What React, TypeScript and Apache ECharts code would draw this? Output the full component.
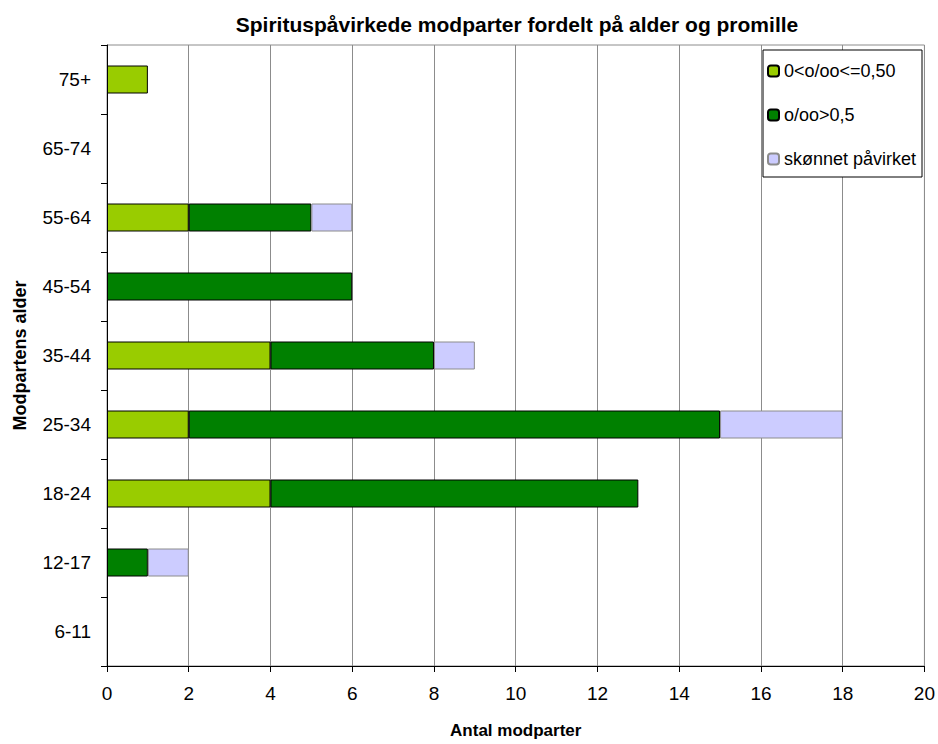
import React, { useEffect, useRef } from "react";
import * as echarts from "echarts";

const categories = ["6-11", "12-17", "18-24", "25-34", "35-44", "45-54", "55-64", "65-74", "75+"];
const lowPromille = [0, 0, 4, 2, 4, 0, 2, 0, 1];
const highPromille = [0, 1, 9, 13, 4, 6, 3, 0, 0];
const estimated = [0, 1, 0, 3, 1, 0, 1, 0, 0];
const seriesNames = ["0<o/oo<=0,50", "o/oo>0,5", "skønnet påvirket"];
const xTicks = [0, 2, 4, 6, 8, 10, 12, 14, 16, 18, 20];

const FONT = "Liberation Sans, Arial, sans-serif";

export default function App() {
  const ref = useRef<HTMLDivElement>(null);
  useEffect(() => {
    if (!ref.current) return;
    const chart = echarts.init(ref.current, null, { renderer: "svg" });
    const toBar = (arr: number[]) => arr.map((v) => (v === 0 ? "-" : v));
    chart.setOption({
      animation: false,
      backgroundColor: "#fff",
      textStyle: { fontFamily: FONT },
      title: {
        text: "Spirituspåvirkede modparter fordelt på alder og promille",
        left: 517,
        textAlign: "center",
        top: 14,
        padding: 0,
        textStyle: { fontFamily: FONT, fontSize: 21, fontWeight: "bold", color: "#000" },
      },
      grid: {
        left: 107,
        right: 12,
        top: 45,
        bottom: 70,
        containLabel: false,
        show: true,
        borderColor: "#8c8c8c",
        borderWidth: 1,
        backgroundColor: "transparent",
      },
      graphic: [
        {
          type: "rect",
          shape: { x: 763, y: 50, width: 159, height: 127 },
          style: { fill: "#fff", stroke: "#000", lineWidth: 1 },
          z: 5,
        },
      ],
      legend: {
        data: seriesNames,
        orient: "vertical",
        left: 767,
        top: 62,
        itemWidth: 11,
        itemHeight: 11,
        itemGap: 26,
        padding: 0,
        z: 10,
        textStyle: { fontFamily: FONT, fontSize: 18, color: "#000" },
      },
      xAxis: {
        type: "value",
        min: 0,
        max: 20,
        interval: 2,
        name: "Antal modparter",
        nameLocation: "middle",
        nameGap: 56,
        nameTextStyle: { fontFamily: FONT, fontSize: 17, fontWeight: "bold", color: "#000" },
        axisLine: { show: true, lineStyle: { color: "#000", width: 1 } },
        axisTick: { show: true, length: 6, lineStyle: { color: "#000" } },
        axisLabel: {
          fontFamily: FONT,
          fontSize: 19,
          color: "#000",
          margin: 18,
          formatter: (v: number) => (xTicks.includes(v) ? String(v) : ""),
        },
        splitLine: { show: true, lineStyle: { color: "#8c8c8c", width: 1 } },
      },
      yAxis: {
        type: "category",
        data: categories,
        name: "Modpartens alder",
        nameLocation: "middle",
        nameGap: 78,
        nameTextStyle: { fontFamily: FONT, fontSize: 18, fontWeight: "bold", color: "#000" },
        axisLine: { show: true, lineStyle: { color: "#000", width: 1 } },
        axisTick: { show: true, length: 6, lineStyle: { color: "#000" } },
        axisLabel: { fontFamily: FONT, fontSize: 19, color: "#000", margin: 16 },
        splitLine: { show: false },
      },
      series: [
        {
          name: seriesNames[0],
          type: "bar",
          stack: "total",
          barWidth: 28,
          data: toBar(lowPromille),
          itemStyle: { color: "#99cc00", borderColor: "#000", borderWidth: 1 },
        },
        {
          name: seriesNames[1],
          type: "bar",
          stack: "total",
          barWidth: 28,
          data: toBar(highPromille),
          itemStyle: { color: "#008000", borderColor: "#000", borderWidth: 1 },
        },
        {
          name: seriesNames[2],
          type: "bar",
          stack: "total",
          barWidth: 28,
          data: toBar(estimated),
          itemStyle: { color: "#ccccff", borderColor: "#8c8c8c", borderWidth: 1 },
        },
      ],
    });
    return () => chart.dispose();
  }, []);
  return (
    <div
      ref={ref}
      style={{ position: "fixed", left: 0, top: 0, width: 938, height: 744 }}
    />
  );
}
